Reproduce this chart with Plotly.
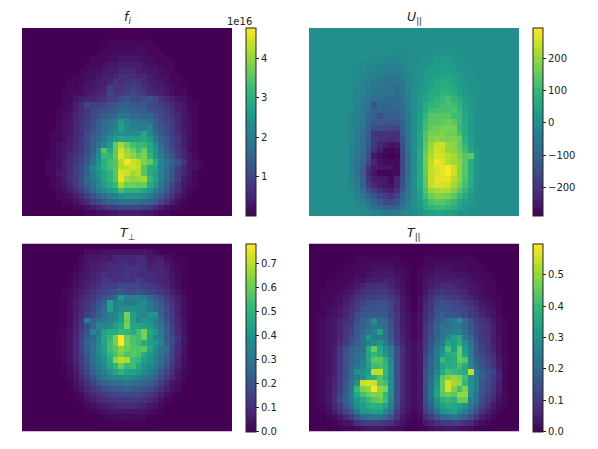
import plotly.graph_objects as go

W, H = 598, 449
N_COLS = 37

# f_i, units of 1e15, columns 4..32 of the grid (the rest is empty)
F_I = [
    [0] * 29,
    [0] * 29,
    [0,0,0,0,0, 0,0,0,0,0,0,1,1,1,1,1,1,1,1,0,0,0,0,0,0, 0,0,0,0],
    [0,0,0,0,0, 0,0,0,0,0,1,1,1,1,1,1,2,1,1,1,0,0,0,0,0, 0,0,0,0],
    [0,0,0,0,0, 0,0,0,0,1,1,1,2,2,2,2,2,2,1,1,1,0,0,0,0, 0,0,0,0],
    [0,0,0,0,0, 0,0,0,1,1,1,2,2,3,3,3,3,2,2,1,1,1,0,0,0, 0,0,0,0],
    [0,0,0,0,0, 0,0,1,1,1,2,3,3,4,4,4,4,3,2,2,1,1,1,0,0, 0,0,0,0],
    [0,0,0,0,0, 0,1,1,2,2,3,4,4,5,5,5,4,4,3,3,2,1,1,0,0, 0,0,0,0],
    [0,0,0,0,0, 1,1,2,2,3,4,4,5,7,6,6,5,5,4,3,2,2,1,1,0, 0,0,0,0],
    [0,0,0,0,1, 1,1,2,3,4,4,5,7,6,7,8,7,5,4,4,3,2,1,1,0, 0,0,0,0],
    [0,0,0,0,1, 1,2,3,3,4,5,9,7,7,8,9,8,6,5,4,4,3,2,1,1, 0,0,0,0],
    [0,0,0,1,1, 2,2,3,4,5,6,10,8,8,9,11,9,8,6,5,4,3,2,1,1, 0,0,0,0],
    [0,0,0,1,1, 3,4,5,5,6,7,9,9,11,13,11,10,11,12,10,7,5,4,3,2, 1,0,0,0],
    [0,0,0,1,2, 4,6,10,9,9,10,12,13,14,14,14,13,13,11,10,9,7,5,4,3, 1,1,0,0],
    [0,0,1,1,2, 4,6,7,10,11,12,13,14,16,16,15,15,14,12,11,11,8,6,4,3, 1,1,0,0],
    [0,0,1,2,3, 5,6,8,10,12,14,15,16,18,18,16,16,15,15,13,11,9,7,5,3, 2,1,0,0],
    [0,0,1,2,3, 5,7,9,11,14,16,18,20,26,22,20,19,19,18,15,12,10,8,5,3, 2,1,0,0],
    [0,0,1,2,3, 5,7,9,12,14,17,19,21,27,23,21,21,20,22,15,13,11,8,5,3, 2,1,0,0],
    [0,1,1,2,3, 5,7,10,13,15,18,21,23,24,23,23,23,28,22,17,14,11,8,6,4, 2,1,0,0],
    [0,1,1,2,4, 5,8,10,14,16,19,23,26,28,27,27,27,28,25,20,15,13,9,7,4, 2,1,0,0],
    [0,1,2,3,4, 6,8,11,14,18,22,26,36,41,37,33,32,32,28,23,17,13,10,7,4, 2,1,0,0],
    [0,1,2,3,4, 6,8,11,15,22,35,29,36,44,40,37,33,37,29,25,19,14,11,8,5, 2,1,0,0],
    [0,1,2,3,5, 7,9,12,16,23,32,31,36,45,41,39,36,38,31,25,20,15,12,8,5, 3,1,0,0],
    [1,1,2,4,5, 8,10,13,18,24,30,33,35,42,47,44,42,38,36,30,22,18,15,12,7, 3,2,1,0],
    [1,1,2,4,6, 9,11,15,22,26,30,33,35,42,43,44,43,35,29,28,21,17,13,9,5, 3,2,1,0],
    [1,1,3,4,6, 9,11,15,20,24,28,31,35,45,44,41,42,35,29,26,21,16,12,8,5, 3,1,0,0],
    [0,1,2,4,6, 8,11,16,20,23,28,31,35,46,41,39,40,41,31,27,21,16,12,8,4, 2,1,0,0],
    [0,1,2,3,5, 8,11,14,18,22,26,29,32,41,37,37,36,36,29,25,19,15,10,6,3, 2,1,0,0],
    [0,0,1,2,4, 6,9,12,16,20,23,26,27,33,30,30,30,28,25,21,17,13,9,6,3, 1,0,0,0],
    [0,0,1,1,2, 4,6,9,12,15,17,20,21,24,25,24,24,22,20,17,14,10,7,4,2, 1,0,0,0],
    [0,0,0,1,1, 2,4,6,9,11,13,15,16,17,18,18,17,16,15,13,10,7,4,2,1, 0,0,0,0],
    [0,0,0,0,0, 1,1,2,4,5,7,8,9,10,10,10,10,9,8,6,4,2,1,1,0, 0,0,0,0],
    [0,0,0,0,0, 0,0,1,1,2,2,3,3,4,4,4,4,3,3,2,1,1,0,0,0, 0,0,0,0],
]

# U_par, units of 10, columns 6..30
U_PAR = [
    [0] * 25,
    [0] * 25,
    [0] * 25,
    [0] * 25,
    [0,0,0,0,0,0,0,0,-1,-1,-1,-1,0,0,0,1,1,1,1,1,0,0,0,0,0],
    [0,0,0,0,0,-1,-1,-1,-2,-2,-1,-1,0,0,1,1,2,2,2,1,1,0,0,0,0],
    [0,0,-1,-1,-2,-2,-2,-3,-3,-3,-2,-1,0,0,1,2,3,3,3,2,1,1,0,0,0],
    [0,0,-1,-1,-2,-3,-3,-4,-4,-4,-3,-1,0,1,2,3,3,4,4,3,2,1,0,0,0],
    [0,0,-1,-2,-3,-4,-5,-6,-6,-6,-4,-2,0,1,2,3,4,5,5,4,3,1,1,0,0],
    [0,-1,-1,-2,-4,-5,-6,-6,-7,-7,-5,-2,0,1,3,4,6,6,6,5,3,2,1,0,0],
    [0,-1,-2,-3,-4,-5,-6,-7,-8,-9,-6,-3,0,2,3,5,6,7,7,6,4,2,1,1,0],
    [0,-1,-2,-3,-5,-7,-7,-8,-8,-9,-7,-3,0,2,4,6,7,9,9,7,5,3,1,1,0],
    [0,-1,-2,-4,-6,-8,-8,-9,-9,-9,-7,-4,0,2,5,7,9,10,12,9,7,4,2,1,0],
    [0,-1,-3,-5,-7,-14,-9,-10,-10,-9,-8,-4,0,3,6,9,10,11,12,11,8,5,2,1,0],
    [0,-1,-3,-5,-8,-10,-10,-11,-11,-10,-8,-4,0,3,7,11,12,12,12,13,10,5,2,1,0],
    [0,-2,-3,-5,-9,-11,-15,-12,-11,-11,-9,-5,0,4,9,14,14,14,14,11,11,6,3,1,0],
    [0,-2,-3,-6,-11,-13,-12,-13,-14,-13,-10,-5,0,4,11,14,14,15,16,14,11,6,3,1,0],
    [0,-2,-4,-7,-11,-15,-15,-16,-16,-17,-11,-5,0,4,12,15,16,17,17,17,10,6,3,1,0],
    [0,-2,-4,-7,-11,-20,-20,-20,-20,-21,-12,-6,0,5,13,17,17,18,16,16,12,7,3,1,0],
    [0,-2,-4,-8,-12,-19,-20,-21,-22,-21,-13,-6,0,5,13,18,19,18,17,18,16,8,4,1,0],
    [0,-3,-5,-8,-13,-19,-23,-24,-26,-25,-14,-7,0,5,14,20,24,25,20,19,15,10,4,1,0],
    [0,-3,-5,-8,-14,-21,-24,-28,-28,-27,-15,-7,0,6,15,21,25,24,20,19,16,11,5,2,0],
    [0,-3,-6,-9,-15,-25,-27,-28,-29,-28,-16,-8,0,6,16,22,26,25,23,21,18,14,15,3,0],
    [0,-3,-6,-10,-16,-23,-26,-27,-27,-27,-17,-8,0,6,16,23,28,26,23,21,19,14,7,2,0],
    [0,-3,-7,-11,-20,-24,-25,-25,-26,-27,-16,-8,0,6,16,24,26,28,29,25,19,14,7,2,0],
    [0,-3,-7,-12,-22,-25,-28,-28,-28,-27,-16,-8,0,6,15,24,26,27,29,25,19,14,7,2,0],
    [0,-3,-6,-11,-20,-24,-25,-25,-27,-23,-15,-7,0,6,15,24,27,27,27,23,19,13,7,2,0],
    [0,-2,-5,-10,-18,-22,-24,-25,-26,-23,-14,-7,0,6,14,24,26,26,25,21,17,12,6,1,0],
    [0,-2,-4,-8,-14,-18,-21,-23,-24,-21,-12,-6,0,5,13,20,21,22,21,18,14,10,4,1,0],
    [0,-1,-3,-6,-10,-14,-17,-18,-20,-17,-10,-5,0,4,11,16,18,18,17,14,10,6,3,1,0],
    [0,0,-2,-4,-7,-10,-13,-16,-16,-14,-9,-4,0,3,8,12,14,14,12,10,7,4,2,0,0],
    [0,0,-1,-2,-4,-7,-9,-10,-11,-10,-6,-3,0,2,6,9,10,10,9,7,5,2,1,0,0],
    [0,0,0,-1,-1,-2,-3,-5,-5,-4,-3,-1,0,1,3,4,5,5,4,3,1,1,0,0,0],
]

# T_perp, units of 0.01, columns 6..30
T_PERP = [
    [0] * 25,
    [0,0,0,0,0,3,3,3,4,4,4,5,5,5,5,5,4,2,1,1,1,0,0,0,0],
    [0,0,0,0,2,4,5,5,6,5,8,9,8,8,9,9,5,6,6,3,2,1,1,0,0],
    [0,0,0,1,3,5,6,7,7,9,8,10,10,8,10,10,6,7,8,5,3,1,1,0,0],
    [0,0,0,1,3,5,6,7,8,10,9,10,12,11,11,10,8,8,8,7,3,2,1,0,0],
    [0,0,1,2,4,5,7,8,11,10,10,11,13,11,10,9,10,9,8,7,4,2,1,0,0],
    [0,0,1,3,4,6,7,9,13,13,11,12,12,11,15,11,10,9,8,7,5,2,1,0,0],
    [0,0,1,3,5,7,9,11,14,14,15,18,17,16,17,15,14,12,10,8,5,3,1,0,0],
    [0,1,2,4,6,8,11,14,16,18,20,21,19,18,21,18,16,15,12,10,7,4,2,1,0],
    [0,1,2,5,8,10,13,17,20,22,26,42,34,34,34,32,26,22,18,14,10,6,3,1,0],
    [0,1,3,6,9,12,15,20,24,44,32,36,32,32,36,38,30,26,22,16,11,7,3,1,0],
    [0,1,3,6,9,13,17,22,28,44,34,38,38,40,38,36,32,28,24,18,12,7,3,1,0],
    [0,1,3,6,10,14,18,24,30,34,36,42,62,44,38,36,40,40,24,18,13,7,3,1,0],
    [0,1,3,7,11,32,24,28,32,34,38,44,60,44,36,42,38,34,28,20,13,8,4,1,0],
    [0,1,3,7,12,18,26,36,36,38,44,48,62,46,46,44,42,36,30,22,14,8,4,1,0],
    [1,2,4,8,14,20,34,32,44,48,48,52,50,48,54,62,46,42,32,24,15,9,4,1,0],
    [1,2,4,9,15,22,26,36,46,52,62,78,60,56,54,62,44,36,33,22,18,12,5,1,0],
    [1,2,4,9,16,24,28,36,46,54,62,78,62,56,54,48,44,42,34,24,18,10,5,1,0],
    [1,2,4,9,16,22,30,38,44,54,58,64,60,58,56,58,46,38,30,28,16,9,4,1,0],
    [1,2,4,9,15,22,30,36,42,52,56,62,56,58,56,48,42,36,30,24,16,9,4,1,0],
    [0,2,4,8,14,20,28,34,40,48,64,70,68,54,52,44,40,34,28,22,15,8,3,1,0],
    [0,1,3,7,13,18,26,32,38,46,50,60,52,54,46,40,36,32,26,20,12,7,3,1,0],
    [0,1,3,6,11,16,24,30,34,40,46,50,46,44,42,38,34,28,22,16,10,5,2,1,0],
    [0,1,2,5,9,14,20,26,30,34,36,36,38,36,34,30,28,24,18,12,8,4,2,0,0],
    [0,0,1,4,7,11,16,21,24,26,29,30,31,29,27,26,23,19,14,9,5,3,1,0,0],
    [0,0,1,3,5,8,12,15,18,20,22,22,24,22,22,20,18,14,10,7,4,2,0,0,0],
    [0,0,0,1,3,6,8,11,13,15,16,17,18,17,17,15,13,10,7,4,2,1,0,0,0],
    [0,0,0,0,2,4,6,8,10,11,12,13,13,13,12,11,9,7,4,2,1,0,0,0,0],
    [0,0,0,0,1,2,3,5,6,7,8,9,9,9,8,7,5,4,2,1,0,0,0,0,0],
    [0,0,0,0,0,1,1,2,3,4,5,5,5,5,4,4,3,2,1,0,0,0,0,0,0],
    [0,0,0,0,0,0,1,1,1,2,2,3,3,2,2,2,1,1,0,0,0,0,0,0,0],
    [0,0,0,0,0,0,0,0,1,1,1,1,1,1,1,1,0,0,0,0,0,0,0,0,0],
    [0] * 25,
]

# T_par, units of 0.01, all 37 columns
T_PAR = [
    [0] * 37,
    [0] * 37,
    [0,0,0,0,0,0,0,0,1,1,1,1,1,1,1,1,0,0,0,0, 1,1,1,1,1,1,1,1,1,0,0,0,0,0,0,0,0],
    [0,0,0,0,0,0,0,1,1,1,2,2,2,2,2,1,1,0,0,0, 1,1,2,2,2,2,2,1,1,1,0,0,0,0,0,0,0],
    [0,0,0,0,0,0,1,1,1,2,2,3,3,3,3,2,2,1,0,1, 2,2,3,3,3,2,2,2,1,1,1,0,0,0,0,0,0],
    [0,0,0,0,0,1,1,1,2,2,3,4,4,4,4,3,2,1,0,1, 2,3,4,4,4,4,3,3,2,2,1,1,0,0,0,0,0],
    [0,0,0,0,1,1,1,2,3,3,5,5,5,6,5,4,2,1,0,1, 3,4,5,5,5,5,5,4,3,2,2,1,1,0,0,0,0],
    [0,0,0,1,1,1,2,3,4,6,8,7,8,8,6,4,3,1,0,1, 3,5,6,7,7,6,5,5,4,3,2,1,1,0,0,0,0],
    [0,0,1,1,1,2,3,4,6,8,9,9,10,10,8,6,3,1,0,1, 4,6,8,9,8,8,7,6,4,3,2,1,1,0,0,0,0],
    [0,0,1,1,2,3,4,6,8,10,11,11,12,12,10,7,4,2,0,2, 5,8,11,12,11,10,9,7,6,4,3,2,1,1,0,0,0],
    [0,0,1,1,2,3,5,7,10,12,14,14,15,15,12,8,4,2,0,2, 6,9,13,15,14,13,12,10,8,6,4,3,2,1,0,0,0],
    [0,0,1,2,3,4,6,8,11,14,15,15,16,16,13,8,4,2,0,2, 7,10,15,16,15,14,13,13,10,8,5,4,3,1,0,0,0],
    [0,1,1,2,3,4,6,9,13,16,17,17,17,17,13,9,5,3,1,3, 7,11,15,19,16,16,15,13,10,9,6,4,3,1,0,0,0],
    [0,1,2,3,4,6,8,9,14,18,20,30,20,20,14,9,5,3,1,3, 8,12,17,19,22,24,30,20,15,11,8,7,4,2,1,0,0],
    [0,1,2,3,4,6,9,11,16,18,21,24,22,21,15,10,5,3,1,3, 9,13,18,23,22,25,24,20,16,12,9,8,5,2,1,0,0],
    [0,1,2,3,4,6,9,12,17,20,23,26,34,22,16,10,5,3,1,3, 9,13,18,23,25,27,27,22,17,12,9,8,5,2,1,0,0],
    [0,1,2,3,4,6,10,13,17,22,32,26,26,23,17,10,6,3,1,3, 10,14,19,24,29,34,36,24,20,13,10,8,5,3,1,0,0],
    [0,1,2,3,4,7,11,14,18,22,27,28,31,26,19,11,6,4,2,4, 10,15,21,26,35,33,38,30,22,15,11,9,5,3,1,0,0],
    [0,1,2,3,5,9,14,18,20,22,36,46,36,30,26,14,8,4,2,4, 11,17,24,29,42,33,46,33,24,16,12,9,6,3,1,0,0],
    [0,1,2,3,5,10,15,19,22,25,35,40,37,31,25,14,7,4,2,4, 12,17,25,30,37,38,46,34,25,16,13,10,7,3,1,0,0],
    [0,1,2,3,5,10,15,19,21,25,35,44,44,38,28,14,7,4,2,4, 13,19,25,40,35,37,46,44,26,18,15,12,8,4,1,0,0],
    [0,1,2,3,5,10,15,20,23,27,33,41,42,40,29,15,7,4,2,4, 13,19,26,35,37,37,42,36,28,20,15,12,8,4,1,0,0],
    [0,1,2,3,5,10,15,21,30,30,33,54,54,40,29,15,7,4,2,4, 14,19,27,36,42,40,38,36,54,24,18,14,12,6,1,0,0],
    [0,1,2,4,6,10,15,22,25,30,36,38,44,38,29,15,7,4,2,4, 14,21,30,44,48,50,48,42,30,26,18,14,10,6,1,0,0],
    [0,1,2,4,6,11,17,22,30,55,56,55,44,42,30,15,7,4,2,4, 15,21,32,46,56,52,50,40,30,26,16,13,9,5,1,0,0],
    [0,1,2,4,7,11,17,24,40,48,50,60,50,48,30,15,7,4,2,4, 15,23,34,46,56,48,42,48,30,24,16,13,9,5,1,0,0],
    [0,1,2,4,7,12,18,26,36,42,46,48,48,40,30,15,7,4,2,4, 15,23,34,44,46,44,50,50,30,22,15,12,8,4,1,0,0],
    [0,1,2,4,7,14,19,25,32,36,40,44,46,42,28,15,7,4,2,4, 14,21,30,38,40,38,46,46,26,22,14,10,6,3,1,0,0],
    [0,1,1,3,6,11,16,22,30,33,36,38,38,34,26,14,6,4,2,4, 13,19,28,34,36,36,34,30,24,18,12,8,4,2,1,0,0],
    [0,0,1,2,5,8,12,17,24,32,32,34,34,28,22,12,6,3,1,3, 11,16,22,30,32,34,30,26,20,14,9,5,3,1,0,0,0],
    [0,0,0,1,2,4,7,11,15,20,22,24,24,20,16,9,4,2,1,2, 8,11,16,20,22,24,20,18,14,9,5,3,1,0,0,0,0],
    [0,0,0,0,1,2,3,4,8,10,11,11,11,9,8,5,3,1,0,1, 4,6,8,10,10,11,11,8,7,4,2,1,0,0,0,0,0],
    [0,0,0,0,0,0,1,1,2,3,4,4,4,3,2,2,1,0,0,0, 1,2,3,3,4,4,3,3,2,1,0,0,0,0,0,0,0],
]

F_TICKS = [1, 2, 3, 4]
U_TICKS = [-200, -100, 0, 100, 200]
TPERP_TICKS = [0, 0.1, 0.2, 0.3, 0.4, 0.5, 0.6, 0.7]
TPAR_TICKS = [0, 0.1, 0.2, 0.3, 0.4, 0.5]


def widen(rows, scale):
    """Pad rows out to the full grid with empty cells and apply the unit."""
    left = (N_COLS - len(rows[0])) // 2
    right = N_COLS - len(rows[0]) - left
    return [[0] * left + [v * scale for v in row] + [0] * right for row in rows]


# panel: z, title, ticks, tick format, zmin, zmax, axes left, axes top
panels = [
    (widen(F_I, 0.1), "<i>f</i><sub><i>i</i></sub>", F_TICKS, "d", 0.0, 4.76, 22, 28),
    (widen(U_PAR, 10), "<i>U</i><sub>||</sub>", U_TICKS, "d", -288, 293, 309, 28),
    (widen(T_PERP, 0.01), "<i>T</i><sub>⊥</sub>", TPERP_TICKS, ".1f", 0, 0.782, 22, 243.5),
    (widen(T_PAR, 0.01), "<i>T</i><sub>||</sub>", TPAR_TICKS, ".1f", 0, 0.60, 309, 243.5),
]

fig = go.Figure()
AX_W, AX_H = 210, 188

for i, (z, title, ticks, tickformat, zmin, zmax, left, top) in enumerate(panels, start=1):
    assert all(len(row) == N_COLS for row in z) and len(z) == 33
    fig.add_trace(go.Heatmap(
        z=z,
        xaxis=f"x{i}",
        yaxis=f"y{i}",
        zmin=zmin,
        zmax=zmax,
        colorscale="Viridis",
        colorbar=dict(
            x=(left + 224) / W,
            xanchor="left",
            xpad=0,
            y=1 - top / H,
            yanchor="top",
            ypad=0,
            len=AX_H / H,
            thickness=9.5,
            outlinewidth=1,
            outlinecolor="#222222",
            tickvals=ticks,
            tickformat=tickformat,
            ticks="outside",
            ticklen=3,
            tickcolor="#222222",
            tickfont=dict(family="DejaVu Sans", size=10, color="#222222"),
        ),
    ))
    fig.update_layout({
        f"xaxis{i}": dict(domain=[left / W, (left + AX_W) / W], visible=False, anchor=f"y{i}"),
        f"yaxis{i}": dict(domain=[1 - (top + AX_H) / H, 1 - top / H], visible=False,
                          autorange="reversed", anchor=f"x{i}"),
    })
    fig.add_annotation(
        x=(left + AX_W / 2) / W, y=1 - top / H, xref="paper", yref="paper",
        text=title, showarrow=False, xanchor="center", yanchor="bottom",
        font=dict(family="DejaVu Sans", size=12.5, color="#222222"),
    )

fig.add_annotation(
    x=254 / W, y=1 - 29 / H, xref="paper", yref="paper", text="1e16", showarrow=False,
    xanchor="right", yanchor="bottom", font=dict(family="DejaVu Sans", size=10, color="#222222"),
)

fig.update_layout(
    width=W,
    height=H,
    margin=dict(l=0, r=0, t=0, b=0),
    paper_bgcolor="white",
    plot_bgcolor="white",
)
# the page's default body margin would push the figure 8px off
fig.write_html(
    "out.html",
    config={"displayModeBar": False},
    post_script="document.body.style.margin = '0';",
)
